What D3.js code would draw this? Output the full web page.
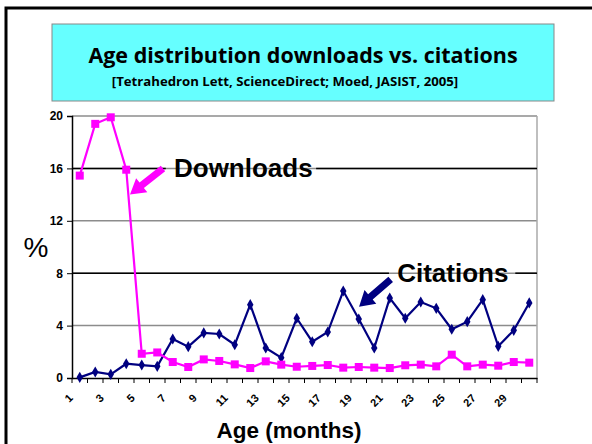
<!DOCTYPE html>
<html>
<head>
<meta charset="utf-8">
<script src="https://cdn.jsdelivr.net/npm/d3@7"></script>
<style>
  body { margin: 0; background: #fff; }
  svg { display: block; }
</style>
</head>
<body>
<div id="chart"></div>
<script>
// age in months
var ages = d3.range(1, 31);
var downloads = [15.45, 19.4, 19.9, 15.9, 1.85, 1.95, 1.22, 0.84, 1.42, 1.3,
                 1.04, 0.76, 1.27, 1.02, 0.86, 0.92, 0.99, 0.79, 0.84, 0.79,
                 0.76, 0.97, 1.02, 0.89, 1.78, 0.89, 1.02, 0.94, 1.22, 1.17];
var citations = [0.05, 0.46, 0.28, 1.09, 0.99, 0.89, 2.98, 2.39, 3.44, 3.36,
                 2.54, 5.6, 2.29, 1.55, 4.56, 2.77, 3.51, 6.64, 4.5, 2.29,
                 6.1, 4.56, 5.8, 5.32, 3.72, 4.3, 5.98, 2.42, 3.64, 5.73];
var yTicks = [0, 4, 8, 12, 16, 20];
var xLabels = [1, 3, 5, 7, 9, 11, 13, 15, 17, 19, 21, 23, 25, 27, 29];

var W = 592, H = 444;
var margin = {top: 116, right: 55, bottom: 66, left: 72},
    width = W - margin.left - margin.right,
    height = H - margin.top - margin.bottom;

var svg = d3.select('#chart').append('svg')
    .attr('width', W)
    .attr('height', H);

// slide frame
svg.append('rect')
    .attr('x', 6).attr('y', 8)
    .attr('width', W + 20).attr('height', H + 20)
    .attr('fill', 'none')
    .attr('stroke', '#000')
    .attr('stroke-width', 3);

// title box
svg.append('rect')
    .attr('x', 52).attr('y', 24)
    .attr('width', 502).attr('height', 77)
    .attr('fill', '#66ffff')
    .attr('stroke', '#888')
    .attr('stroke-width', 1);

svg.append('text')
    .attr('x', 303).attr('y', 63)
    .attr('text-anchor', 'middle')
    .style('font-family', '"Open Sans", sans-serif')
    .style('font-weight', 'bold')
    .style('font-size', '21.5px')
    .text('Age distribution downloads vs. citations');

svg.append('text')
    .attr('x', 285).attr('y', 86)
    .attr('text-anchor', 'middle')
    .style('font-family', '"Open Sans", sans-serif')
    .style('font-weight', 'bold')
    .style('font-size', '13.2px')
    .text('[Tetrahedron Lett, ScienceDirect; Moed, JASIST, 2005]');

var g = svg.append('g')
    .attr('transform', 'translate(' + margin.left + ',' + margin.top + ')');

var xScale = d3.scaleBand()
    .domain(ages)
    .range([0, width])
    .padding(0);

// continuous position in "month slots" for annotations
var xPos = d3.scaleLinear()
    .domain([0, ages.length])
    .range([0, width]);

var yScale = d3.scaleLinear()
    .domain([0, 20])
    .range([height, 0]);

var cx = function(d, i) { return xScale(ages[i]) + xScale.bandwidth() / 2; };

// grid
g.selectAll('.grid')
    .data(yTicks.filter(function(d) { return d > 0; }))
  .enter().append('line')
    .attr('class', 'grid')
    .attr('x1', 0).attr('x2', width)
    .attr('y1', function(d) { return yScale(d); })
    .attr('y2', function(d) { return yScale(d); })
    .attr('stroke', '#8c8c8c')
    .attr('stroke-width', 1.5);

// right border of plot area
g.append('line')
    .attr('x1', width).attr('x2', width)
    .attr('y1', 0).attr('y2', height)
    .attr('stroke', '#aaa')
    .attr('stroke-width', 1.5);

// annotation leader lines (black, broken by the labels)
var notes = [
  {name: 'Downloads', color: '#ff00ff', y: 16, gapFrom: 6.05, gapTo: 15.75,
   textX: 6.58, textY: 15.35, tail: [5.87, 16.0], tip: [3.74, 14.0]},
  {name: 'Citations', color: '#000080', y: 8, gapFrom: 20.45, gapTo: 28.6,
   textX: 20.98, textY: 7.3, tail: [20.56, 7.53], tip: [18.52, 5.44]}
];

notes.forEach(function(n) {
  [[0, xPos(n.gapFrom)], [xPos(n.gapTo), width]].forEach(function(seg) {
    g.append('line')
        .attr('x1', seg[0]).attr('x2', seg[1])
        .attr('y1', yScale(n.y)).attr('y2', yScale(n.y))
        .attr('stroke', '#000')
        .attr('stroke-width', 1.5);
  });
});

// axes
var yAxis = d3.axisLeft(yScale)
    .tickValues(yTicks)
    .tickSize(5)
    .tickPadding(4);

var yg = g.append('g').call(yAxis);
yg.select('.domain').attr('stroke', '#000').attr('stroke-width', 1.5);
yg.selectAll('.tick line').attr('stroke', '#000');
yg.selectAll('text')
    .style('font-family', 'Arial, "Liberation Sans", sans-serif')
    .style('font-weight', 'bold')
    .style('font-size', '12px')
    .attr('fill', '#000');

var xAxis = d3.axisBottom(xScale)
    .tickSize(0)
    .tickFormat('');

var xg = g.append('g')
    .attr('transform', 'translate(0,' + height + ')')
    .call(xAxis);
xg.select('.domain').attr('stroke', '#000').attr('stroke-width', 1.5);

// ticks between categories
xg.selectAll('.btick')
    .data(d3.range(ages.length + 1))
  .enter().append('line')
    .attr('class', 'btick')
    .attr('x1', function(d) { return xPos(d); })
    .attr('x2', function(d) { return xPos(d); })
    .attr('y1', 0).attr('y2', 5)
    .attr('stroke', '#000');

xg.selectAll('.xlabel')
    .data(xLabels)
  .enter().append('text')
    .attr('class', 'xlabel')
    .attr('transform', function(d) {
      return 'translate(' + (xScale(d) + xScale.bandwidth() / 2 - 9) + ',18) rotate(-45)';
    })
    .attr('text-anchor', 'end')
    .attr('dy', '0.35em')
    .attr('fill', '#000')
    .style('font-family', 'Arial, "Liberation Sans", sans-serif')
    .style('font-weight', 'bold')
    .style('font-size', '11px')
    .text(function(d) { return d; });

// axis titles
svg.append('text')
    .attr('x', 289).attr('y', 438)
    .attr('text-anchor', 'middle')
    .style('font-family', 'Arial, "Liberation Sans", sans-serif')
    .style('font-weight', 'bold')
    .style('font-size', '22.5px')
    .text('Age (months)');

svg.append('text')
    .attr('x', 36).attr('y', 257)
    .attr('text-anchor', 'middle')
    .style('font-family', 'Arial, "Liberation Sans", sans-serif')
    .style('font-size', '28px')
    .text('%');

// series
var line = d3.line()
    .x(cx)
    .y(function(d) { return yScale(d); });

g.append('path')
    .datum(citations)
    .attr('d', line)
    .attr('fill', 'none')
    .attr('stroke', '#000080')
    .attr('stroke-width', 2.2);

g.selectAll('.cit')
    .data(citations)
  .enter().append('path')
    .attr('class', 'cit')
    .attr('d', d3.symbol().type(d3.symbolDiamond).size(36))
    .attr('transform', function(d, i) { return 'translate(' + cx(d, i) + ',' + yScale(d) + ')'; })
    .attr('fill', '#000080');

g.append('path')
    .datum(downloads)
    .attr('d', line)
    .attr('fill', 'none')
    .attr('stroke', '#ff00ff')
    .attr('stroke-width', 2.2);

g.selectAll('.dl')
    .data(downloads)
  .enter().append('rect')
    .attr('class', 'dl')
    .attr('x', function(d, i) { return cx(d, i) - 4; })
    .attr('y', function(d) { return yScale(d) - 4; })
    .attr('width', 8).attr('height', 8)
    .attr('fill', '#ff00ff');

// block arrows and labels
function blockArrow(x1, y1, x2, y2, color) {
  var dx = x2 - x1, dy = y2 - y1, len = Math.sqrt(dx * dx + dy * dy);
  var ux = dx / len, uy = dy / len, nx = -uy, ny = ux;
  var headLen = 15, shaft = 3.5, head = 9;
  var bx = x2 - ux * headLen, by = y2 - uy * headLen;
  var pts = [
    [x1 + nx * shaft, y1 + ny * shaft],
    [bx + nx * shaft, by + ny * shaft],
    [bx + nx * head, by + ny * head],
    [x2, y2],
    [bx - nx * head, by - ny * head],
    [bx - nx * shaft, by - ny * shaft],
    [x1 - nx * shaft, y1 - ny * shaft]
  ];
  g.append('polygon')
      .attr('points', pts.map(function(p) { return p.join(','); }).join(' '))
      .attr('fill', color);
}

notes.forEach(function(n) {
  blockArrow(xPos(n.tail[0]), yScale(n.tail[1]), xPos(n.tip[0]), yScale(n.tip[1]), n.color);
  g.append('text')
      .attr('x', xPos(n.textX))
      .attr('y', yScale(n.textY))
      .style('font-family', 'Arial, "Liberation Sans", sans-serif')
      .style('font-weight', 'bold')
      .style('font-size', '26px')
      .text(n.name);
});
</script>
</body>
</html>
